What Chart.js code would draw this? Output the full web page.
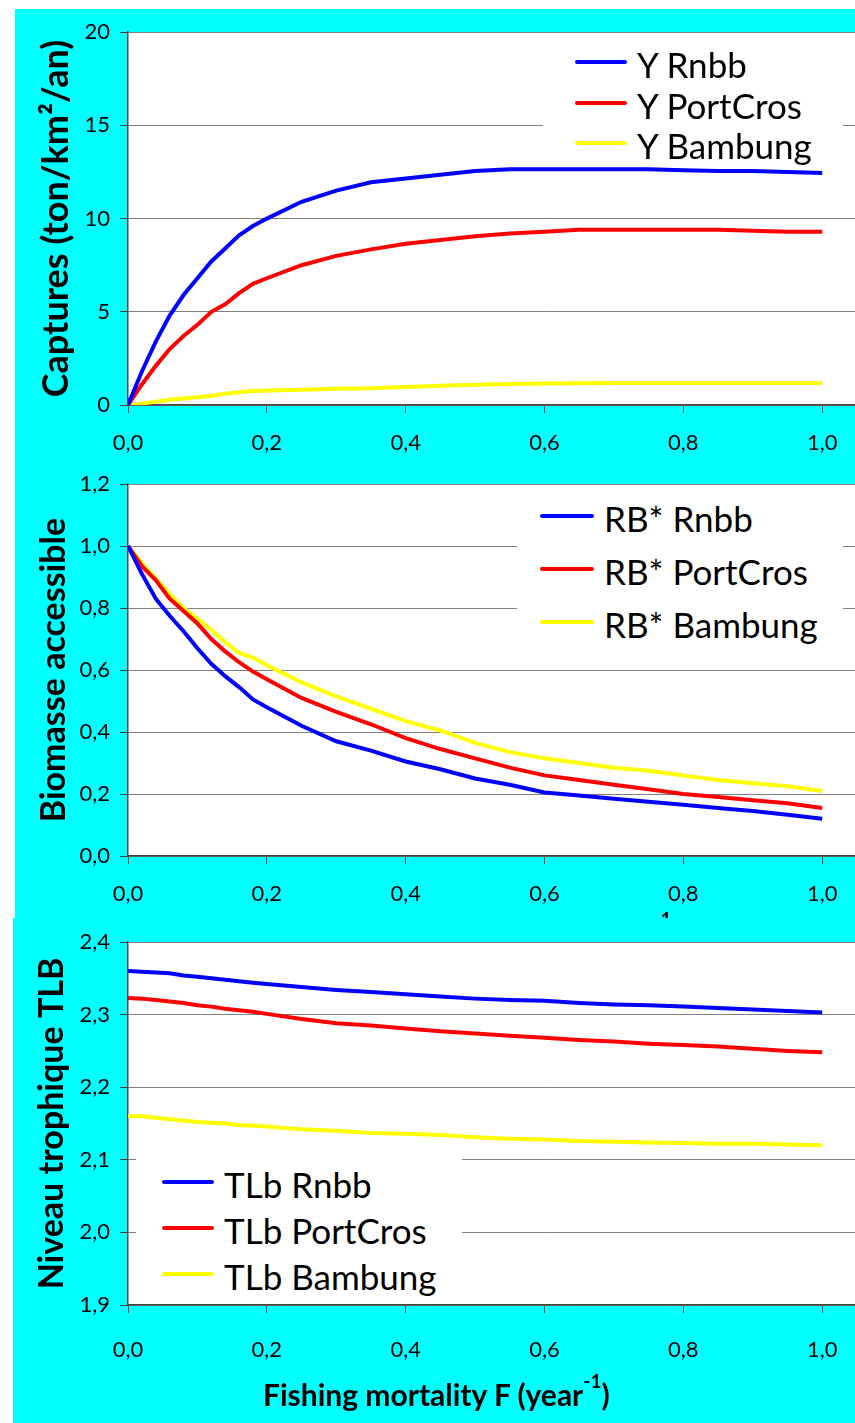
<!DOCTYPE html>
<html>
<head>
<meta charset="utf-8">
<script src="https://cdn.jsdelivr.net/npm/chart.js@4/dist/chart.umd.min.js"></script>
<style>
    body { margin: 0; overflow: hidden; background: #fff; }
    #page { position: relative; width: 855px; height: 1423px; overflow: hidden; background: #fff; font-family: Lato, sans-serif; }
    .bg { position: absolute; background: #00ffff; }
    canvas { position: absolute; }
    .legend { position: absolute; background: #fff; box-sizing: border-box; font-size: 35px; color: #000; }
    .leg-row { display: flex; align-items: center; white-space: nowrap; }
    .leg-line { display: inline-block; height: 4px; border-radius: 2px; margin-right: 10px; }
    .leg-text { position: relative; top: 2px; }
    .xtitle { position: absolute; font-weight: bold; font-size: 30px; line-height: 1; white-space: nowrap; color: #000; }
    .xtitle sup { font-size: 19px; position: relative; top: -8px; vertical-align: top; }
</style>
</head>
<body>
<div id="page">
    <div class="bg" style="left:15px;top:9px;width:840px;height:909px;"></div>
    <canvas id="chartYield" width="986" height="446" style="left:15px;top:9px;"></canvas>
    <div class="legend" id="legYield" style="left:543px;top:40px;width:300px;height:122px;padding:2px 0 0 32px;"></div>
    <canvas id="chartBiomass" width="986" height="463" style="left:15px;top:455px;"></canvas>
    <div class="legend" id="legBiomass" style="left:517px;top:488px;width:326px;height:160px;padding:1px 0 0 23px;"></div>
    <div class="xtitle" style="left:333px;top:917px;">Fishing mortality F (year<sup>-1</sup>)</div>
    <div class="bg" style="left:13px;top:918px;width:842px;height:505px;"></div>
    <canvas id="chartTL" width="988" height="505" style="left:13px;top:918px;"></canvas>
    <div class="legend" id="legTL" style="left:136px;top:1152px;width:326px;height:146px;padding:7px 0 0 26px;"></div>
    <div class="xtitle" style="left:263px;top:1379px;">Fishing mortality F (year<sup>-1</sup>)</div>
</div>
<script>
// fishing mortality F (year-1)
const fishingF = [0, 0.02, 0.04, 0.06, 0.08, 0.1, 0.12, 0.14, 0.16, 0.18, 0.2, 0.25, 0.3, 0.35,
    0.4, 0.45, 0.5, 0.55, 0.6, 0.65, 0.7, 0.75, 0.8, 0.85, 0.9, 0.95, 1.0];

// captures Y (ton/km2/an)
const yRnbb = [0, 1.8, 3.4, 4.8, 5.9, 6.8, 7.7, 8.4, 9.1, 9.6, 10.0, 10.9, 11.5, 11.95, 12.15, 12.35,
    12.55, 12.65, 12.65, 12.65, 12.65, 12.65, 12.6, 12.55, 12.55, 12.5, 12.45];
const yPortCros = [0, 1.1, 2.1, 3.0, 3.7, 4.3, 5.0, 5.4, 6.0, 6.5, 6.8, 7.5, 8.0, 8.35, 8.65, 8.85,
    9.05, 9.2, 9.3, 9.4, 9.4, 9.4, 9.4, 9.4, 9.35, 9.3, 9.3];
const yBambung = [0, 0.08, 0.18, 0.28, 0.35, 0.42, 0.5, 0.6, 0.68, 0.75, 0.78, 0.82, 0.87, 0.9, 0.97,
    1.03, 1.08, 1.12, 1.15, 1.17, 1.18, 1.18, 1.18, 1.18, 1.18, 1.18, 1.18];

// biomasse accessible RB*
const rbRnbb = [1.0, 0.91, 0.83, 0.775, 0.725, 0.67, 0.62, 0.58, 0.545, 0.505, 0.48, 0.42, 0.37, 0.34,
    0.305, 0.28, 0.25, 0.23, 0.205, 0.195, 0.185, 0.175, 0.165, 0.155, 0.145, 0.133, 0.12];
const rbPortCros = [1.0, 0.935, 0.89, 0.83, 0.79, 0.75, 0.7, 0.66, 0.625, 0.595, 0.57, 0.51, 0.465,
    0.425, 0.38, 0.345, 0.315, 0.285, 0.26, 0.245, 0.23, 0.215, 0.2, 0.19, 0.18, 0.17, 0.155];
const rbBambung = [1.0, 0.945, 0.895, 0.845, 0.8, 0.765, 0.73, 0.69, 0.655, 0.64, 0.615, 0.56, 0.515,
    0.475, 0.435, 0.405, 0.365, 0.335, 0.315, 0.3, 0.285, 0.275, 0.26, 0.245, 0.235, 0.225, 0.21];

// niveau trophique TLb
const tlRnbb = [2.36, 2.359, 2.358, 2.357, 2.354, 2.352, 2.35, 2.348, 2.346, 2.344, 2.342, 2.338, 2.334,
    2.331, 2.328, 2.325, 2.322, 2.32, 2.319, 2.316, 2.314, 2.313, 2.311, 2.309, 2.307, 2.305, 2.303];
const tlPortCros = [2.323, 2.322, 2.32, 2.318, 2.316, 2.313, 2.311, 2.308, 2.306, 2.304, 2.301, 2.294,
    2.288, 2.285, 2.281, 2.277, 2.274, 2.271, 2.268, 2.265, 2.263, 2.26, 2.258, 2.256, 2.253, 2.25, 2.248];
const tlBambung = [2.16, 2.16, 2.158, 2.156, 2.154, 2.152, 2.151, 2.15, 2.148, 2.147, 2.146, 2.142, 2.14,
    2.137, 2.136, 2.134, 2.131, 2.129, 2.128, 2.126, 2.125, 2.124, 2.123, 2.122, 2.122, 2.121, 2.12];

const colors = ['#0000ff', '#ff0000', '#ffff00'];

Chart.defaults.font.family = 'Lato';
Chart.defaults.color = '#000';

const comma = v => v.toFixed(1).replace('.', ',');

// white plot area on the cyan background
const plotBg = {
    id: 'plotBg',
    beforeDraw(chart) {
        const { ctx, chartArea: a } = chart;
        ctx.save();
        ctx.fillStyle = '#fff';
        ctx.fillRect(a.left, a.top, a.right - a.left, a.bottom - a.top);
        ctx.restore();
    }
};

// legend drawn as html box so it can sit inside the plot with a white background
const htmlLegend = {
    id: 'htmlLegend',
    afterUpdate(chart, args, opts) {
        const box = document.getElementById(opts.containerID);
        box.innerHTML = '';
        chart.options.plugins.legend.labels.generateLabels(chart).forEach(item => {
            const row = document.createElement('div');
            row.className = 'leg-row';
            row.style.height = opts.rowHeight + 'px';
            const line = document.createElement('span');
            line.className = 'leg-line';
            line.style.width = opts.lineWidth + 'px';
            line.style.background = item.strokeStyle;
            const text = document.createElement('span');
            text.className = 'leg-text';
            text.textContent = item.text;
            row.append(line, text);
            box.appendChild(row);
        });
    }
};

function makeDatasets(labels, series) {
    return series.map((values, i) => ({
        label: labels[i],
        data: values.map((v, j) => ({ x: fishingF[j], y: v })),
        borderColor: colors[i],
        backgroundColor: colors[i],
        borderWidth: 4,
        pointRadius: 0,
        tension: 0
    }));
}

function makeChart(id, cfg) {
    return new Chart(document.getElementById(id), {
        type: 'line',
        data: { datasets: makeDatasets(cfg.labels, cfg.series) },
        plugins: [plotBg, htmlLegend],
        options: {
            responsive: false,
            animation: false,
            layout: { padding: { left: 0, top: cfg.padTop, right: 40, bottom: 0 } },
            plugins: {
                legend: { display: false },
                tooltip: { enabled: false },
                htmlLegend: cfg.legend
            },
            scales: {
                x: {
                    type: 'linear',
                    min: 0,
                    max: 1.2,
                    ticks: { stepSize: 0.2, font: { size: 22 }, padding: cfg.xPad, callback: v => comma(v) },
                    grid: { drawOnChartArea: false, tickLength: 8, tickColor: '#404040' },
                    border: { color: '#404040', width: 1.5 },
                    afterFit: s => { s.height = cfg.xHeight; }
                },
                y: {
                    min: cfg.yMin,
                    max: cfg.yMax,
                    ticks: { stepSize: cfg.yStep, font: { size: 22 }, padding: 10, callback: cfg.yFormat },
                    grid: { color: '#808080', tickLength: 8, tickColor: '#404040' },
                    border: { color: '#404040', width: 1.5 },
                    title: {
                        display: true,
                        text: cfg.yTitle,
                        font: { size: cfg.titleSize, weight: 'bold' },
                        padding: { top: cfg.titlePad, bottom: 0 }
                    },
                    afterFit: s => { s.width = cfg.yWidth; }
                }
            }
        }
    });
}

makeChart('chartYield', {
    labels: ['Y Rnbb', 'Y PortCros', 'Y Bambung'],
    series: [yRnbb, yPortCros, yBambung],
    yMin: 0, yMax: 20, yStep: 5, yFormat: v => String(v),
    yTitle: 'Captures (ton/km²/an)', titleSize: 36,
    padTop: 21, xHeight: 50, xPad: 17, yWidth: 113, titlePad: 20,
    legend: { containerID: 'legYield', rowHeight: 40.5, lineWidth: 52 }
});

makeChart('chartBiomass', {
    labels: ['RB* Rnbb', 'RB* PortCros', 'RB* Bambung'],
    series: [rbRnbb, rbPortCros, rbBambung],
    yMin: 0, yMax: 1.2, yStep: 0.2, yFormat: v => comma(v),
    yTitle: 'Biomasse accessible', titleSize: 34,
    padTop: 29, xHeight: 62, xPad: 17, yWidth: 113, titlePad: 19,
    legend: { containerID: 'legBiomass', rowHeight: 53, lineWidth: 54 }
});

makeChart('chartTL', {
    labels: ['TLb Rnbb', 'TLb PortCros', 'TLb Bambung'],
    series: [tlRnbb, tlPortCros, tlBambung],
    yMin: 1.9, yMax: 2.4, yStep: 0.1, yFormat: v => comma(v),
    yTitle: 'Niveau trophique TLB', titleSize: 34,
    padTop: 24, xHeight: 118, xPad: 24, yWidth: 115, titlePad: 19,
    legend: { containerID: 'legTL', rowHeight: 46, lineWidth: 52 }
});
</script>
</body>
</html>
